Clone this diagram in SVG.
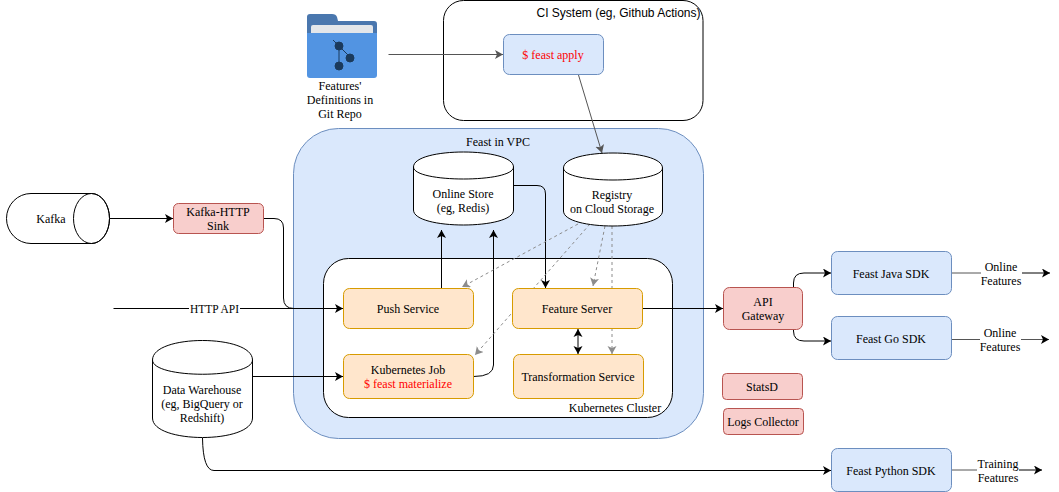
<svg xmlns="http://www.w3.org/2000/svg" width="1059" height="492" viewBox="0 0 1059 492">
<style>
text{font-family:"Liberation Serif","Times New Roman",serif;font-size:12px;fill:#000;text-anchor:middle}
.sans{font-family:"Liberation Sans",Arial,sans-serif}
.red{fill:#ff0000}
.blue{fill:#dae8fc;stroke:#6c8ebf}
.orange{fill:#ffe6cc;stroke:#d79b00}
.pink{fill:#f8cecc;stroke:#b85450}
.white{fill:#fff;stroke:#000}
rect,path,ellipse{stroke-width:1}
.c{fill:none;stroke:#000;stroke-width:1}
.g{stroke:#555}
.a{marker-end:url(#ah)}
.ga{marker-end:url(#gh)}
.d{fill:none;stroke:#8c8c8c;stroke-width:1;stroke-dasharray:3 3;marker-end:url(#dh)}
</style>
<defs>
<marker id="ah" markerUnits="userSpaceOnUse" markerWidth="9" markerHeight="10" refX="8" refY="4.5" orient="auto"><path d="M0,0L8,4.5L0,9L2,4.5Z" fill="#000" stroke="none"/></marker>
<marker id="gh" markerUnits="userSpaceOnUse" markerWidth="9" markerHeight="10" refX="8" refY="4.5" orient="auto"><path d="M0,0L8,4.5L0,9L2,4.5Z" fill="#555" stroke="none"/></marker>
<marker id="dh" markerUnits="userSpaceOnUse" markerWidth="9" markerHeight="10" refX="8" refY="4.5" orient="auto"><path d="M0,0L8,4.5L0,9L2,4.5Z" fill="#8c8c8c" stroke="none"/></marker>
<marker id="as" markerUnits="userSpaceOnUse" markerWidth="9" markerHeight="10" refX="0" refY="4.5" orient="auto"><path d="M8,0L0,4.5L8,9L6,4.5Z" fill="#000" stroke="none"/></marker>
</defs>

<g id="ci-system"><rect x="443.5" y="0.5" width="259.5" height="120" rx="20" class="white"/><text class="sans" x="618.5" y="17">CI System (eg, Github Actions)</text></g>
<g id="vpc"><rect x="293.5" y="128.5" width="410" height="310" rx="45" class="blue"/><text x="498" y="146">Feast in VPC</text></g>
<g id="k8s"><rect x="323.5" y="258.5" width="349" height="159" rx="25" class="white"/><text x="615" y="412">Kubernetes Cluster</text></g>

<g id="connectors">
<path class="c g ga" d="M388.5,54.500H503"/>
<path class="c g ga" d="M578.500,75L602,153"/>
<path class="c a" d="M263.500,218.500H274Q283.500,218.500 283.500,228V298Q283.500,308.500 294,308.500H343"/>
<path class="c a" d="M110,218.500H173"/>
<path class="c" d="M113.500,308.500H343"/>
<path class="c a" d="M441.500,288.500V230"/>
<path class="c a" d="M473.500,376.500Q493.500,376.500 493.500,365V230"/>
<path class="c a" d="M513.500,185.500H537Q545.500,185.500 545.500,194V288"/>
<path class="c a" d="M252.500,376.500H343"/>
<path class="c a" d="M202.500,438Q203,470.500 214,470.500H831"/>
<path class="c a" d="M642.500,308.500H723"/>
<path class="c a" d="M793.500,287V283Q793.500,273 804,273H831"/>
<path class="c a" d="M793.500,329.500V331Q793.500,341 804,341H831"/>
<path class="c" style="marker-start:url(#as);marker-end:url(#ah)" d="M578,329V354"/>
<path class="d" d="M578,224L462,287"/>
<path class="d" d="M590,224L475,355"/>
<path class="d" d="M605,226L593,286"/>
<path class="d" d="M612,226V354"/>
<path class="c g" d="M951.500,273H981"/>
<path class="c a" d="M1022,273H1050"/>
<path class="c g" d="M950.500,339.500H980"/>
<path class="c a g" d="M1021,339.500H1049"/>
<path class="c g" d="M951.500,470H977"/>
<path class="c a" d="M1019,470H1042"/>
</g>

<g id="git-repo">
<path d="M310,14H332Q336,14 337,17L338,21H374Q377,21 377,24V45H307V17Q307,14 310,14Z" fill="#4a77ae"/>
<rect x="311" y="25" width="62" height="12" rx="2" fill="#e3e6ea"/>
<path d="M307,33H377V75Q377,78 374,78H310Q307,78 307,75Z" fill="#5294e2"/>
<g fill="#1b3a5c" stroke="#1b3a5c"><path d="M333,40L350,57M339,46V66" stroke-width="2.500" fill="none"/><circle cx="339" cy="46" r="4"/><circle cx="350" cy="58" r="4"/><circle cx="339" cy="66" r="4"/></g>
<text x="340" y="90">Features'</text><text x="340" y="104">Definitions in</text><text x="340" y="118">Git Repo</text>
</g>
<g id="feast-apply"><rect x="503.500" y="34.500" width="100" height="40" rx="6" class="blue"/><text class="red" x="553" y="59">$ feast apply</text></g>
<g id="online-store"><path class="white" d="M413.500,167C413.500,147 513.500,147 513.500,167V210C513.500,230 413.500,230 413.500,210Z"/><path d="M413.500,167C413.500,183 513.500,183 513.500,167" fill="none" stroke="#000"/><text x="463" y="198">Online Store</text><text x="463" y="212">(eg, Redis)</text></g>
<g id="registry"><path class="white" d="M563.500,168C563.500,148 662.500,148 662.500,168V211C662.500,231 563.500,231 563.500,211Z"/><path d="M563.500,168C563.500,184 662.500,184 662.500,168" fill="none" stroke="#000"/><text x="612" y="199">Registry</text><text x="612" y="213">on Cloud Storage</text></g>
<g id="kafka"><path class="white" d="M31,193.500H91.500A18,25 0 0 1 91.500,243.500H31A24.500,25 0 0 1 31,193.500Z"/><ellipse cx="91.500" cy="218.500" rx="18" ry="25" fill="none" stroke="#000"/><text x="51" y="223">Kafka</text></g>
<g id="kafka-http-sink"><rect x="173.500" y="203.500" width="90" height="30" rx="5" class="pink"/><text x="218" y="216">Kafka-HTTP</text><text x="218" y="230">Sink</text></g>
<g id="http-api-label"><rect x="189" y="302" width="51" height="13" fill="#fff"/><text x="214.500" y="313" textLength="49" lengthAdjust="spacingAndGlyphs">HTTP API</text></g>
<g id="data-warehouse"><path class="white" d="M152.500,360C152.500,334 252.500,334 252.500,360V418C252.500,444 152.500,444 152.500,418Z"/><path d="M152.500,360C152.500,379 252.500,379 252.500,360" fill="none" stroke="#000"/><text x="202" y="394">Data Warehouse</text><text x="202" y="408">(eg, BigQuery or</text><text x="202" y="422">Redshift)</text></g>
<g id="push-service"><rect x="343.500" y="288.500" width="130" height="40" rx="6" class="orange"/><text x="408" y="313">Push Service</text></g>
<g id="feature-server"><rect x="512.500" y="288.500" width="130" height="40" rx="6" class="orange"/><text x="577" y="313">Feature Server</text></g>
<g id="kubernetes-job"><rect x="343.500" y="354.500" width="130" height="44" rx="6" class="orange"/><text x="408" y="374">Kubernetes Job</text><text class="red" x="408" y="388">$ feast materialize</text></g>
<g id="transformation-service"><rect x="513.500" y="354.500" width="130" height="44" rx="6" class="orange"/><text x="578" y="381">Transformation Service</text></g>
<g id="api-gateway"><rect x="723.500" y="287.500" width="79" height="42" rx="6" class="pink"/><text x="763" y="306">API</text><text x="763" y="320">Gateway</text></g>
<g id="statsd"><rect x="722.500" y="373.500" width="80" height="26" rx="4" class="pink"/><text x="762" y="391">StatsD</text></g>
<g id="logs-collector"><rect x="723.500" y="408.500" width="80" height="26" rx="4" class="pink"/><text x="763" y="426">Logs Collector</text></g>
<g id="java-sdk"><rect x="831.500" y="251.500" width="120" height="43" rx="6" class="blue"/><text x="891" y="278">Feast Java SDK</text></g>
<g id="go-sdk"><rect x="831.500" y="316.500" width="120" height="43" rx="6" class="blue"/><text x="891" y="343">Feast Go SDK</text></g>
<g id="python-sdk"><rect x="831.500" y="448.500" width="120" height="43" rx="6" class="blue"/><text x="891" y="475">Feast Python SDK</text></g>
<g id="output-labels">
<text x="1001" y="271">Online</text><text x="1001" y="285">Features</text>
<text x="1000" y="337">Online</text><text x="1000" y="351">Features</text>
<text x="998" y="468">Training</text><text x="998" y="482">Features</text>
</g>
</svg>
